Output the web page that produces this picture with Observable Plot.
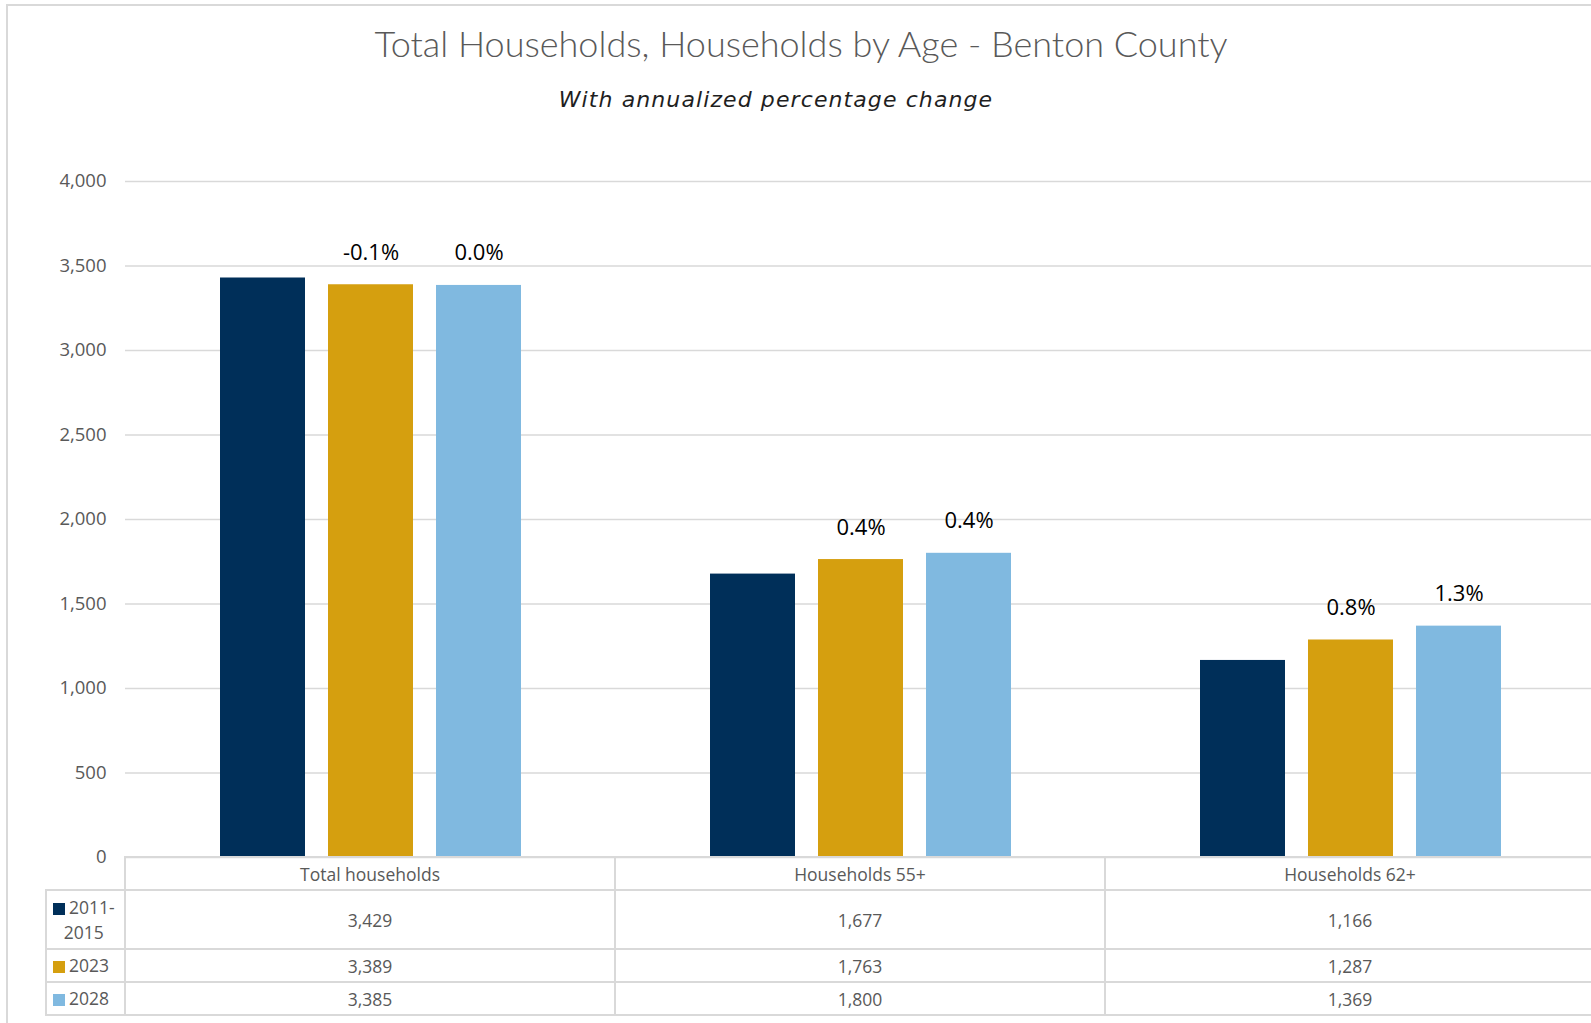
<!DOCTYPE html>
<html>
<head>
<meta charset="utf-8">
<script src="https://cdn.jsdelivr.net/npm/d3@7"></script>
<script src="https://cdn.jsdelivr.net/npm/@observablehq/plot@0.6"></script>
<style>
  html, body { margin: 0; padding: 0; background: #fff; }
  body { width: 1591px; height: 1023px; overflow: hidden; position: relative; }
  #frame { position: absolute; left: 6px; top: 4px; width: 1700px; height: 1100px;
           border-top: 2px solid #d9d9d9; border-left: 2px solid #d9d9d9; }
  #title { position: absolute; left: 7px; width: 1588px; top: 21px; text-align: center;
           font-family: Lato, "Open Sans", sans-serif; font-weight: 300; font-size: 36px;
           color: #595959; line-height: 44px; white-space: nowrap; }
  #subtitle { position: absolute; left: 0px; width: 1552px; top: 85px; text-align: center;
              font-family: "DejaVu Sans", sans-serif; font-style: italic; font-size: 22px;
              letter-spacing: 1.1px; color: #1f1f1f; line-height: 30px; white-space: nowrap; }
  #chart { position: absolute; left: 0; top: 141px; width: 1600px; }
  #chart svg { max-width: none !important; }
  #table { position: absolute; left: 0; top: 0; width: 1591px; height: 1023px; pointer-events: none; }
  .cell { position: absolute; display: flex; align-items: center; justify-content: center;
          font-family: "Open Sans", sans-serif; font-size: 17.5px; color: #595959; box-sizing: border-box; }
  .line { position: absolute; background: #d9d9d9; }
</style>
</head>
<body>
<div id="frame"></div>
<div id="title">Total Households, Households by Age - Benton County</div>
<div id="subtitle">With annualized percentage change</div>
<div id="chart"></div>
<div id="table"></div>
<script>
// ---- data ----
const categories = ["Total households", "Households 55+", "Households 62+"];
const series = ["2011-2015", "2023", "2028"];
const values2011_2015 = [3429, 1677, 1166];
const values2023 = [3389, 1763, 1287];
const values2028 = [3385, 1800, 1369];
const change2023 = ["-0.1%", "0.4%", "0.8%"];
const change2028 = ["0.0%", "0.4%", "1.3%"];
const yTicks = [0, 500, 1000, 1500, 2000, 2500, 3000, 3500, 4000];
const colors = ["#002F59", "#D59F0F", "#80B9E0"];

const seriesValues = [values2011_2015, values2023, values2028];
const seriesLabels = [null, change2023, change2028];
const rows = [];
series.forEach((s, si) => {
  categories.forEach((c, ci) => {
    rows.push({category: c, series: s, value: seriesValues[si][ci],
               label: seriesLabels[si] ? seriesLabels[si][ci] : null});
  });
});

const chart = Plot.plot({
  width: 1600,
  height: 716,
  marginLeft: 124,
  marginRight: 4,
  marginTop: 40,
  marginBottom: 0,
  style: {fontFamily: "Open Sans, sans-serif", background: "transparent", overflow: "visible", maxWidth: "none"},
  fx: {domain: categories, padding: 0, axis: null},
  x: {domain: series, paddingInner: 0.217, paddingOuter: 0.87, axis: null},
  y: {domain: [0, 4000], axis: null},
  color: {domain: series, range: colors},
  marks: [
    Plot.gridY(yTicks, {stroke: "#d9d9d9", strokeOpacity: 1, strokeWidth: 1.5}),
    Plot.axisY(yTicks, {anchor: "left", label: null, tickSize: 0, tickPadding: 19, tickFormat: d3.format(","),
                        fontSize: 18.5, fill: "#595959", fontFamily: "Open Sans, sans-serif"}),
    Plot.barY(rows, {fx: "category", x: "series", y: "value", fill: "series"}),
    Plot.text(rows.filter(d => d.label), {fx: "category", x: "series", y: "value", text: "label",
              dy: -32, fontSize: 22, fill: "#000", fontFamily: "Open Sans, sans-serif"})
  ]
});
chart.style.maxWidth = "none";
document.getElementById("chart").appendChild(chart);

// ---- data table below the chart, aligned to the fx scale ----
const fx = chart.scale("fx");
const bw = fx.bandwidth;
const left0 = fx.apply(categories[0]);
const tableEl = document.getElementById("table");
const legendLeft = 46;
const top0 = 857;
const rowHeights = [33, 59, 33, 33];
const rowTops = [top0];
rowHeights.forEach((h, i) => rowTops.push(rowTops[i] + h));
const rightEdge = fx.apply(categories[categories.length - 1]) + bw;

function line(x, y, w, h) {
  const d = document.createElement("div");
  d.className = "line";
  Object.assign(d.style, {left: x + "px", top: y + "px", width: w + "px", height: h + "px"});
  tableEl.appendChild(d);
}
function cell(x, y, w, h, html, extra) {
  const d = document.createElement("div");
  d.className = "cell";
  Object.assign(d.style, {left: x + "px", top: y + "px", width: w + "px", height: h + "px"}, extra || {});
  d.innerHTML = html;
  tableEl.appendChild(d);
}
line(left0 - 1, rowTops[0] - 1, rightEdge - left0 + 2, 2);
for (let i = 1; i < rowTops.length; i++) line(legendLeft - 1, rowTops[i] - 1, rightEdge - legendLeft + 2, 2);
line(legendLeft - 1, rowTops[1] - 1, 2, rowTops[4] - rowTops[1] + 1);
categories.forEach(c => line(fx.apply(c) - 1, rowTops[0] - 1, 2, rowTops[4] - rowTops[0] + 1));
line(rightEdge - 1, rowTops[0] - 1, 2, rowTops[4] - rowTops[0] + 1);

const fmt = d3.format(",");
categories.forEach(c => cell(fx.apply(c), rowTops[0], bw, rowHeights[0], c));
series.forEach((s, si) => {
  const y = rowTops[si + 1], h = rowHeights[si + 1];
  const parts = s.includes("-") ? [s.slice(0, s.indexOf("-") + 1), s.slice(s.indexOf("-") + 1)] : [s];
  const sw = `<span style="display:inline-block;width:12px;height:12px;background:${colors[si]};margin-right:4px;vertical-align:-1px"></span>`;
  const html = parts.length > 1
    ? `<div style="line-height:25px;text-align:center">${sw}${parts[0]}<br>${parts[1]}</div>`
    : `<div style="line-height:25px">${sw}${parts[0]}</div>`;
  cell(legendLeft, y, left0 - legendLeft, h, html, {justifyContent: "flex-start", paddingLeft: "7px"});
  categories.forEach((c, ci) => cell(fx.apply(c), y, bw, h, fmt(seriesValues[si][ci])));
});
</script>
</body>
</html>
